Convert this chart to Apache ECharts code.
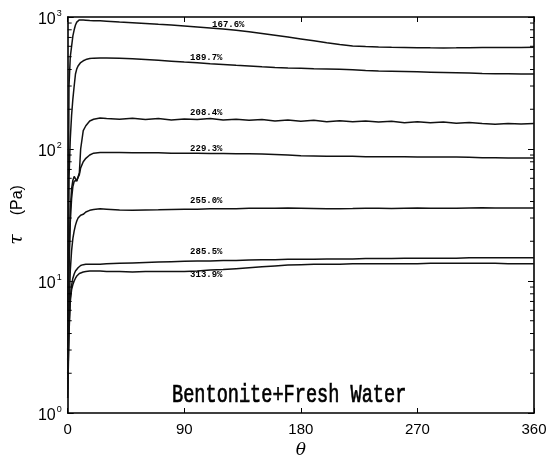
<!DOCTYPE html>
<html>
<head>
<meta charset="utf-8">
<script src="https://cdn.jsdelivr.net/npm/echarts@6/dist/echarts.min.js"></script>
<style>
  html, body { margin: 0; padding: 0; background: #fff; }
  #chart { width: 558px; height: 464px; }
</style>
</head>
<body>
<div id="chart"></div>
<script>
// Shear angle (degrees) sampled along every curve
const theta = [0, 1, 2, 3, 4, 5, 6, 7, 8, 9, 10, 12, 14, 17, 20, 25, 30,
  40, 50, 60, 70, 80, 90, 100, 110, 120, 130, 140, 150, 160, 170, 180,
  190, 200, 210, 220, 230, 240, 250, 260, 270, 280, 290, 300, 310, 320,
  330, 340, 350, 360];

// Water content of each bentonite sample
const waterContents = ['167.6%', '189.7%', '208.4%', '229.3%', '255.0%', '285.5%', '313.9%'];

// Shear stress tau (Pa) for each water content
const tau1676 = [3, 300, 500, 600, 720, 800, 870, 915, 940, 950, 950, 948, 945, 940, 938, 935, 930,
  915, 905, 893, 880, 868, 855, 840, 825, 810, 792, 772, 750, 728, 705, 682,
  660, 638, 618, 604, 597, 593, 590, 588, 586, 584, 583, 584, 586, 587,
  588, 588, 588, 589];
const tau1897 = [2.5, 60, 120, 180, 240, 300, 370, 405, 425, 440, 452, 466, 476, 484, 488, 490, 490,
  487, 482, 476, 470, 463, 456, 450, 443, 437, 431, 426, 420, 415, 411, 409,
  406, 404, 402, 398, 393, 390, 388, 386, 384, 382, 380, 378, 376, 373,
  372, 371, 370, 370];
const tau2084 = [2, 15, 35, 50, 58, 62, 60, 57, 58, 66, 100, 138, 150, 163, 168, 172, 170,
  168, 171, 167, 170, 166, 169, 167, 170, 166, 168, 165, 167, 163, 166, 162,
  165, 161, 164, 161, 163, 160, 162, 158, 161, 158, 160, 157, 159, 156,
  154, 156, 155, 156];
const tau2293 = [1.8, 12, 28, 42, 52, 57, 59, 58, 60, 64, 72, 80, 85, 90, 93, 94, 94,
  94, 93.5, 93.5, 93.5, 93, 93, 93, 92.5, 92.5, 92, 92, 91.5, 91, 90, 89,
  88.5, 88, 88, 88, 87.5, 87.5, 87.5, 87.5, 87, 87, 87, 87, 86.5, 86,
  86, 85.5, 85.5, 85.5];
const tau2550 = [1.7, 6, 12, 17, 21, 24, 26.5, 28.5, 30, 31, 31.5, 32, 33.3, 34.3, 34.8, 35.2, 35,
  34.5, 34.3, 34.5, 34.6, 34.8, 35, 35, 35.2, 35.2, 35.3, 35.5, 35.6, 35.6, 35.8, 35.6,
  35.4, 35.2, 35.3, 35.4, 35.6, 35.5, 35.4, 35.6, 35.7, 35.6, 35.5, 35.6, 35.8, 35.9,
  35.8, 35.7, 35.8, 35.8];
const tau2855 = [1.5, 4.5, 7.5, 9.3, 10.5, 11.3, 11.9, 12.3, 12.6, 12.9, 13.1, 13.3, 13.4, 13.4, 13.4, 13.4, 13.5,
  13.6, 13.7, 13.8, 13.9, 14, 14.1, 14.2, 14.2, 14.3, 14.3, 14.4, 14.5, 14.5, 14.6, 14.6,
  14.6, 14.7, 14.7, 14.7, 14.8, 14.8, 14.8, 14.9, 14.9, 14.9, 14.9, 14.9, 15, 15,
  15, 15, 15, 15];
const tau3139 = [1.3, 4, 7, 8.6, 9.4, 10, 10.5, 10.9, 11.2, 11.4, 11.5, 11.7, 11.8, 11.9, 11.9, 11.9, 11.8,
  11.8, 11.7, 11.8, 11.8, 11.8, 11.8, 11.9, 12.1, 12.2, 12.4, 12.6, 12.8, 13.0, 13.2, 13.3,
  13.4, 13.4, 13.4, 13.5, 13.5, 13.5, 13.5, 13.5, 13.5, 13.6, 13.6, 13.6, 13.6, 13.6,
  13.6, 13.5, 13.5, 13.5];

const tauSeries = [tau1676, tau1897, tau2084, tau2293, tau2550, tau2855, tau3139];

// Axis ticks
const xTicks = [0, 90, 180, 270, 360];
const yDecades = [1, 10, 100, 1000];

// Where each water-content tag sits along its curve, and how far off the line
const tagTheta = [124, 107, 107, 107, 107, 107, 107];
const tagShift = [-5, -6, -6, -5, -8, -9, 4];

const chart = echarts.init(document.getElementById('chart'), null, { renderer: 'canvas' });

function tauAt(values, t) {
  for (let i = 1; i < theta.length; i++) {
    if (theta[i] >= t) {
      const f = (t - theta[i - 1]) / (theta[i] - theta[i - 1]);
      const a = Math.log10(values[i - 1]), b = Math.log10(values[i]);
      return Math.pow(10, a + f * (b - a));
    }
  }
  return values[values.length - 1];
}

const minorTicks = [];
for (let k = 0; k < yDecades.length - 1; k++) {
  for (let m = 2; m <= 9; m++) minorTicks.push(m * yDecades[k]);
}

const sansFont = 'Liberation Sans, Arial, sans-serif';
const monoFont = 'Liberation Mono, Courier New, monospace';

const lineSeries = waterContents.map((name, s) => ({
  name: name,
  type: 'line',
  xAxisIndex: 0,
  yAxisIndex: 0,
  showSymbol: false,
  symbol: 'none',
  smooth: false,
  lineStyle: { color: '#111', width: 1.5 },
  data: theta.map((t, i) => [t, tauSeries[s][i]]),
  z: 4,
  markPoint: {
    symbol: 'circle',
    symbolSize: 0,
    silent: true,
    itemStyle: { color: 'rgba(0,0,0,0)' },
    data: [{
      coord: [tagTheta[s], tauAt(tauSeries[s], tagTheta[s])],
      label: {
        show: true,
        position: 'inside',
        formatter: name,
        offset: [0, tagShift[s]],
        color: '#000',
        fontFamily: monoFont,
        fontWeight: 'bold',
        fontSize: 9
      }
    }]
  }
}));

const minorTickSeries = {
  type: 'custom',
  xAxisIndex: 0,
  yAxisIndex: 0,
  silent: true,
  z: 5,
  data: minorTicks.map(v => [0, v]),
  renderItem: (params, api) => {
    const v = api.value(1);
    const pl = api.coord([xTicks[0], v]);
    const pr = api.coord([xTicks[xTicks.length - 1], v]);
    const st = { stroke: '#000', lineWidth: 1 };
    return {
      type: 'group',
      children: [
        { type: 'line', shape: { x1: pl[0], y1: pl[1], x2: pl[0] + 4, y2: pl[1] }, style: st },
        { type: 'line', shape: { x1: pr[0], y1: pr[1], x2: pr[0] - 4, y2: pr[1] }, style: st }
      ]
    };
  }
};

const axisLineStyle = { color: '#000', width: 1.6 };

const option = {
  animation: false,
  backgroundColor: '#fff',
  grid: { left: 65, right: 24, top: 17, bottom: 51 },
  xAxis: [{
    type: 'value',
    min: xTicks[0],
    max: xTicks[xTicks.length - 1],
    interval: 90,
    name: 'θ',
    nameLocation: 'middle',
    nameGap: 23,
    nameTextStyle: { fontFamily: 'DejaVu Serif, serif', fontStyle: 'italic', fontSize: 17, color: '#000' },
    axisLine: { show: true, onZero: false, lineStyle: axisLineStyle },
    axisTick: { show: true, inside: true, length: 5, lineStyle: { color: '#000', width: 1 } },
    axisLabel: { color: '#000', fontFamily: sansFont, fontSize: 15, margin: 9 },
    splitLine: { show: false }
  }, {
    type: 'value',
    position: 'top',
    min: xTicks[0],
    max: xTicks[xTicks.length - 1],
    interval: 90,
    axisLine: { show: true, onZero: false, lineStyle: axisLineStyle },
    axisTick: { show: true, inside: true, length: 5, lineStyle: { color: '#000', width: 1 } },
    axisLabel: { show: false },
    splitLine: { show: false }
  }],
  yAxis: [{
    type: 'log',
    logBase: 10,
    min: yDecades[0],
    max: yDecades[yDecades.length - 1],
    name: '{t|τ}{g|}{p|(Pa)}',
    nameLocation: 'middle',
    nameRotate: 90,
    nameGap: 31,
    nameTextStyle: {
      color: '#000',
      rich: {
        t: { fontFamily: 'DejaVu Serif, serif', fontStyle: 'italic', fontSize: 19, color: '#000' },
        g: { width: 19 },
        p: { fontFamily: sansFont, fontSize: 16, color: '#000' }
      }
    },
    axisLine: { show: true, onZero: false, lineStyle: axisLineStyle },
    axisTick: { show: true, inside: true, length: 6, lineStyle: { color: '#000', width: 1 } },
    axisLabel: {
      margin: 6,
      formatter: v => '{b|10}{s|' + Math.round(Math.log10(v)) + '}',
      rich: {
        b: { fontFamily: sansFont, fontSize: 16, color: '#000', padding: [6, 0, 0, 0] },
        s: { fontFamily: sansFont, fontSize: 9, color: '#000', padding: [0, 0, 6, 1] }
      }
    },
    splitLine: { show: false }
  }, {
    type: 'log',
    logBase: 10,
    position: 'right',
    min: yDecades[0],
    max: yDecades[yDecades.length - 1],
    axisLine: { show: true, onZero: false, lineStyle: axisLineStyle },
    axisTick: { show: true, inside: true, length: 6, lineStyle: { color: '#000', width: 1 } },
    axisLabel: { show: false },
    splitLine: { show: false }
  }],
  graphic: [{
    type: 'text',
    x: 172,
    y: 382,
    scaleY: 1.4,
    silent: true,
    style: {
      text: 'Bentonite+Fresh Water',
      fontFamily: monoFont,
      fontSize: 18.6,
      fontWeight: 'normal',
      fill: '#000',
      stroke: '#000',
      lineWidth: 0.5,
      textVerticalAlign: 'top'
    }
  }],
  series: lineSeries.concat([minorTickSeries])
};

chart.setOption(option);
</script>
</body>
</html>
